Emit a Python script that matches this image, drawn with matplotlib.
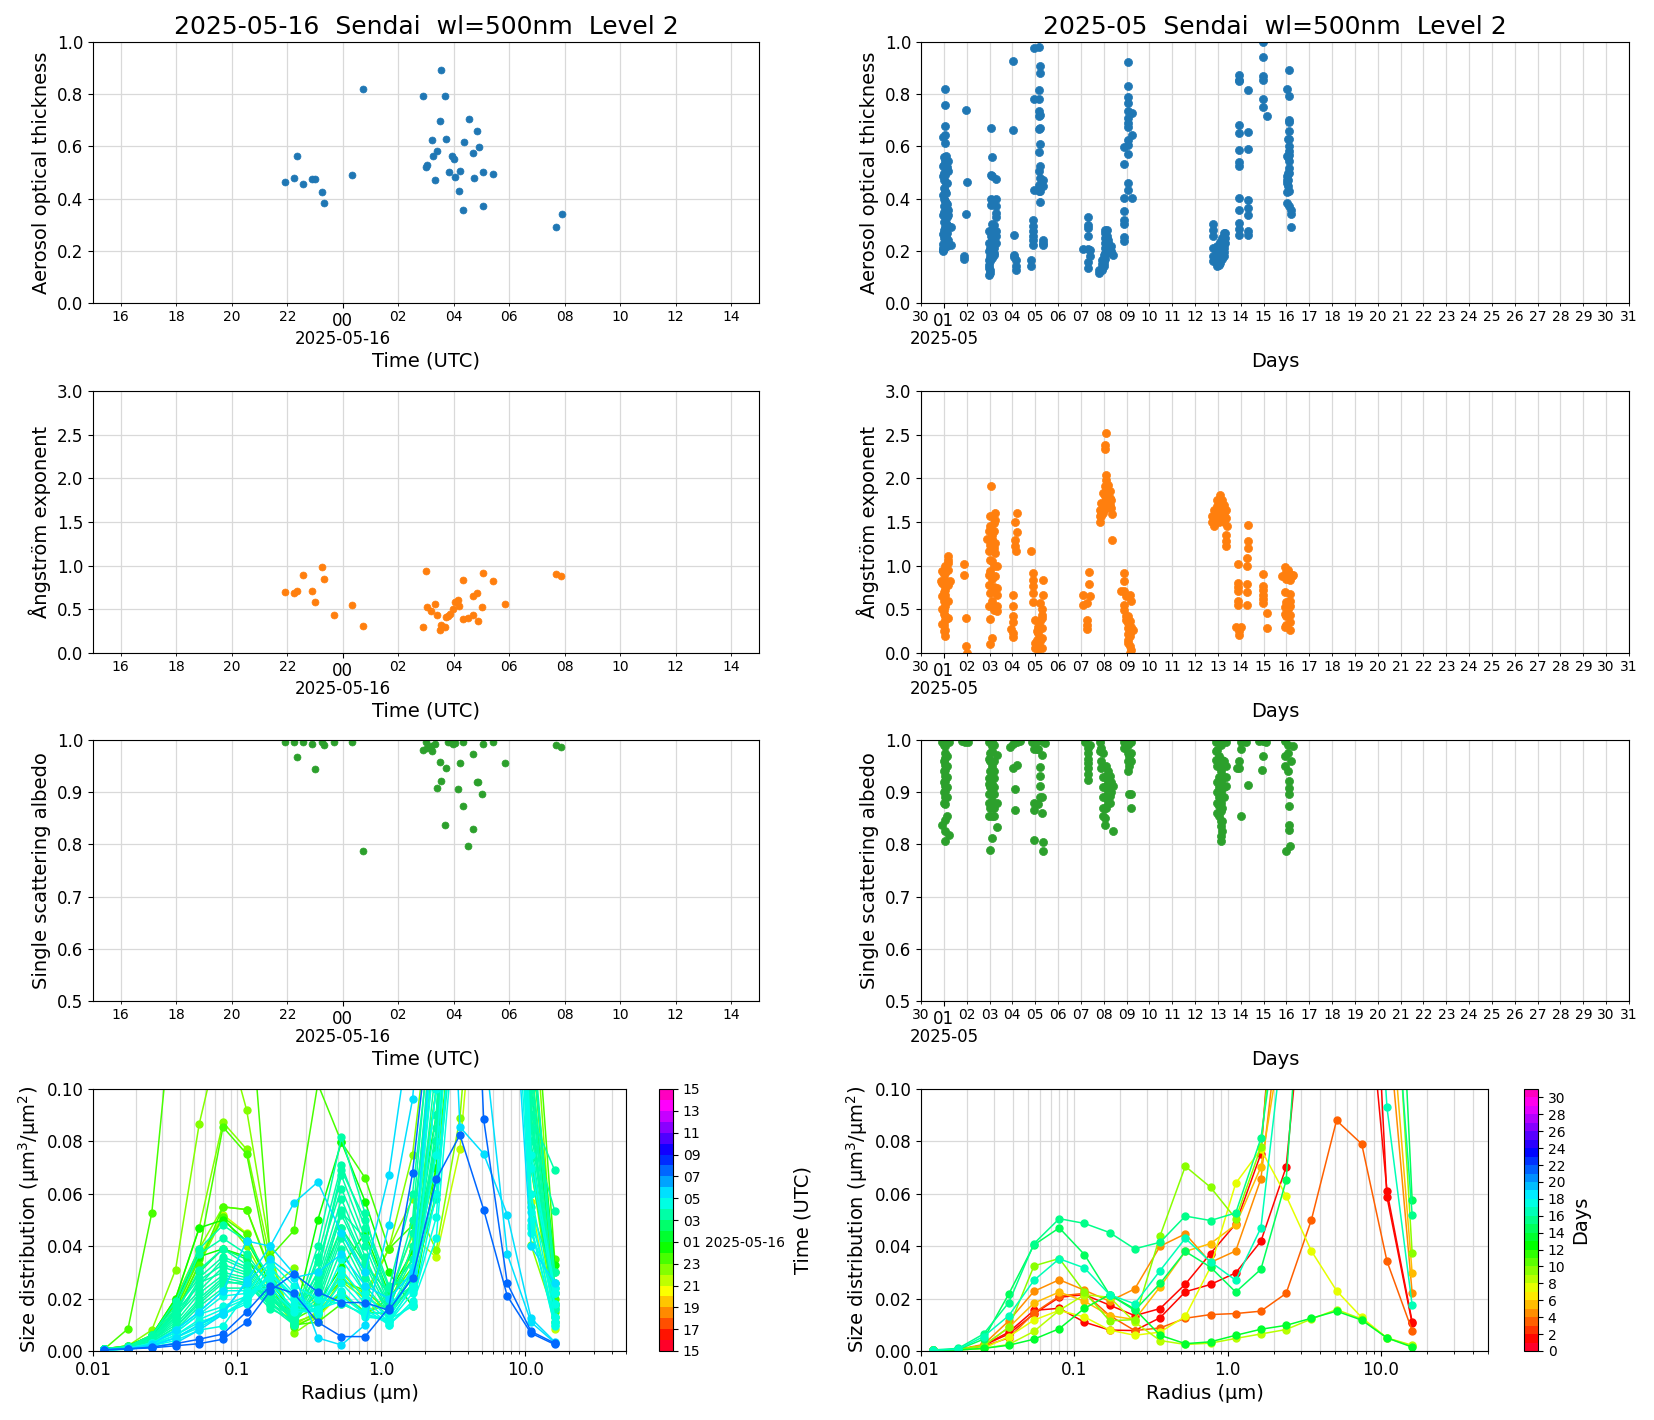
import numpy as np
import matplotlib as mpl
mpl.use("Agg")
import matplotlib.pyplot as plt
import matplotlib.dates as mdates
from matplotlib.cm import ScalarMappable
from matplotlib.colors import Normalize

W, H = 1654, 1420

# ---- one day, hours from 2025-05-16 00 UTC
aod_hours = [-2.08, -1.76, -1.65, -1.43, -1.10, -1.01, -0.75, -0.68, 0.33, 0.74, 2.89, 3.01, 3.05, 3.20,
             3.24, 3.33, 3.40, 3.51, 3.55, 3.68, 3.73, 3.84, 3.92, 4.01, 4.05, 4.19, 4.23, 4.34, 4.38,
             4.56, 4.69, 4.73, 4.84, 4.91, 5.04, 5.07, 5.40, 7.70, 7.90]
aod_day = [.464, .479, .563, .456, .475, .475, .425, .383, .490, .820, .793, .521, .529, .625,
           .563, .471, .582, .697, .893, .793, .628, .502, .563, .552, .483, .429, .506, .356, .617,
           .705, .575, .479, .659, .598, .502, .372, .494, .291, .341]

ae_hours = [-2.07, -1.76, -1.65, -1.44, -1.12, -1.00, -0.755, -0.68, -0.32, 0.32, 0.72, 2.88, 3.00, 3.02,
            3.18, 3.32, 3.38, 3.49, 3.53, 3.68, 3.72, 3.81, 3.88, 3.98, 4.04, 4.17, 4.20, 4.32, 4.35,
            4.53, 4.68, 4.71, 4.82, 4.89, 5.00, 5.04, 5.40, 5.84, 7.67, 7.88]
ae_day = [.70, .688, .712, .896, .712, .585, .988, .85, .435, .55, .308, .296, .942, .523,
          .481, .562, .435, .262, .319, .296, .412, .419, .442, .504, .588, .604, .538, .838, .388,
          .40, .435, .654, .688, .365, .527, .919, .827, .562, .908, .885]

ssa_hours = [-2.07, -1.76, -1.65, -1.44, -1.12, -1.00, -0.755, -0.68, -0.32, 0.32, 0.72, 2.88, 3.00, 3.02,
             3.18, 3.20, 3.32, 3.38, 3.49, 3.53, 3.68, 3.72, 3.81, 3.88, 3.98, 4.04, 4.17, 4.21, 4.32,
             4.35, 4.53, 4.68, 4.71, 4.82, 4.89, 5.00, 5.04, 5.40, 5.84, 7.67, 7.88]
ssa_day = [.997, .997, .968, .997, .992, .945, .996, .99, .996, .997, .787, .981, .997, .985,
           .988, .978, .992, .909, .958, .922, .838, .947, .996, .996, .992, .995, .907, .956, .996,
           .874, .796, .829, .973, .92, .92, .897, .992, .997, .956, .99, .987]

# ---- one month, (day of May, values seen around that time)
aod_month = [
    (0.95, [.636, .526, .485, .415, .338, .264, .225, .211, .204, .198]),
    (1.00, [.56, .53, .50, .47, .44, .40, .37, .35, .31, .28, .25, .22, .21]),
    (1.04, [.819, .759, .679, .645, .613, .545, .49, .43, .39, .33, .29, .25, .22]),
    (1.08, [.562, .536, .504, .46, .421, .383, .358, .332, .306, .281, .255, .236, .217]),
    (1.13, [.52, .46, .38, .36, .33, .30, .27, .24, .22]),
    (1.19, [.543, .504, .358, .338, .294, .243, .227]),
    (1.30, [.291, .224]),
    (1.96, [.739, .341]), (2.00, [.464]), (1.87, [.179, .169]),
    (3.05, [.670, .492, .398, .377, .255, .275, .198]),
    (3.13, [.559, .485, .304, .281, .243, .204, .172]),
    (3.29, [.475, .398, .37, .345, .33, .275, .258, .23]),
    (3.20, [.30, .275, .25, .23, .211, .185, .19]),
    (2.96, [.275, .23, .198, .166, .147, .134, .109]),
    (3.00, [.21, .18, .16, .128, .115]),
    (4.05, [.926, .663]), (4.09, [.259, .185, .176]), (4.14, [.166, .14, .125]),
    (4.92, [.319, .294, .275, .255, .243, .224]), (4.83, [.163, .14]),
    (4.96, [.977, .782, .434]),
    (5.17, [.981, .817, .782, .734, .715, .667, .577, .504, .453, .428]),
    (5.22, [.909, .881, .722, .67, .61, .524, .479, .428, .386]),
    (5.33, [.473, .45, .243, .224, .23]),
    (7.30, [.329, .30, .287, .255]), (7.11, [.208]), (7.31, [.207, .156, .134]), (7.38, [.202, .18]),
    (7.80, [.115, .125]), (7.92, [.125, .135, .15, .165]), (8.00, [.14, .155, .17, .185]),
    (8.07, [.17, .19, .21, .23, .25, .278, .268]), (8.14, [.19, .205, .22, .24, .255, .278]),
    (8.20, [.195, .21, .23, .24]), (8.30, [.19, .2, .217]), (8.40, [.185]),
    (9.05, [.923, .831, .734, .709, .69, .674, .607, .46, .434]),
    (9.08, [.789, .766, .626, .57]),
    (9.22, [.728, .645, .401]), (8.90, [.598, .533, .401, .352, .319, .304, .253, .236]),
    (12.80, [.304, .278, .255, .21, .18, .16]), (12.95, [.217, .2, .18, .16, .15, .14]),
    (13.03, [.22, .2, .185, .17, .155, .145]), (13.10, [.235, .215, .2, .18, .165, .155]),
    (13.18, [.25, .235, .22, .2, .185, .17]), (13.27, [.268, .255, .24, .225, .21, .195, .18]),
    (13.31, [.27, .25, .23]),
    (13.92, [.875, .849, .853, .683, .651, .585, .54, .526, .402, .307, .284, .262, .355]),
    (14.30, [.816, .654, .59, .396, .364, .338, .275, .262]),
    (14.98, [.999, .943, .868, .856, .782, .751]), (15.15, [.716]),
    (16.13, [.893, .792, .702, .692, .659, .63, .6, .581, .568, .543, .517, .498, .428, .373]),
    (16.02, [.821, .565, .485, .473, .46, .424, .383]),
    (16.08, [.63, .56, .50, .47, .45]),
    (16.22, [.358, .34, .291]),
]
ae_month = [
    (1.17, [1.11, 1.03, 1.069, .95, .78, .60, .40]), (0.93, [.935, .649, .336, .80, .50]), (0.88, [.82]), (1.25, [.82]),
    (1.07, [.916, .992, .725, .84, .592, .668, .42, .534, .267, .382, .198]),
    (1.00, [.782, .496, .324, .6, .45, .25, .90, .70]),
    (1.87, [1.02, .893]), (1.96, [.40, .084]), (2.01, [0.0]),
    (3.07, [1.912]), (3.22, [1.603, 1.527, 1.145, .878]), (3.03, [1.565, 1.45, 1.24, 1.069, .935, .687, .389]),
    (3.18, [1.489, .992, .75, 1.40, 1.20]), (2.96, [1.393, 1.164, .897, .782, .542]), (3.10, [1.355, 1.30, 1.05, .85, .60]),
    (2.89, [1.305]), (3.25, [1.26, .744]), (3.32, [.992, .744, .668, .534, .477]),
    (3.18, [.496]), (3.13, [.172]), (3.03, [.103]),
    (4.19, [1.6, 1.385]), (4.12, [1.496, 1.298, 1.229]), (4.15, [1.164]),
    (4.05, [.668, .542, .42, .351, .229, .179]), (3.95, [.275]),
    (4.83, [1.172]), (4.92, [.916, .84, .763, .687, .584]),
    (5.35, [.836, .664]), (5.21, [.573, .363, .134]), (5.28, [.439, .286, .172, .057, .50, .40]),
    (4.99, [.382, .115, .057]), (5.14, [.229, .30, .10, .05]), (5.10, [.25, .15]),
    (7.36, [.927, .79]), (7.11, [.664, .546]), (7.38, [.649]), (7.27, [.573, .382, .324, .275]),
    (8.11, [2.519]), (8.07, [2.385, 2.34]),
    (8.11, [2.042, 1.985, 1.813, 1.90, 1.75, 1.70]), (8.18, [1.927, 1.85, 1.75, 1.718]),
    (8.04, [1.908, 1.80, 1.70, 1.65]), (8.26, [1.851, 1.78, 1.70]), (7.97, [1.832, 1.70, 1.641, 1.60]),
    (8.33, [1.756, 1.66]), (7.89, [1.718, 1.60, 1.565]), (8.37, [1.595]), (7.82, [1.641, 1.565, 1.496]),
    (8.37, [1.294]),
    (8.88, [.916, .82, .706, .553, .489]), (8.77, [.706]), (9.13, [.668, .363, .191]),
    (8.98, [.649, .42, .38]), (9.20, [.592, .30, .25]), (9.06, [.42, .286, .115, .34, .22, .15]),
    (9.27, [.267]), (9.20, [.038]), (9.13, [0.0, .08]),
    (13.09, [1.813, 1.72, 1.64, 1.56]), (12.95, [1.756, 1.68, 1.60, 1.546]),
    (13.19, [1.756, 1.68, 1.60, 1.527]), (12.83, [1.641, 1.45, 1.52]), (13.05, [1.66, 1.50, 1.58]),
    (13.34, [1.641, 1.55, 1.355, 1.279, 1.221]), (12.76, [1.565, 1.50]), (13.41, [1.45]),
    (13.27, [1.70, 1.60, 1.50]),
    (14.32, [1.466, 1.279, 1.202]), (14.28, [1.088, .992, .794, .695, .55]),
    (13.89, [1.019, .802, .706, .553, .60, .75]), (13.81, [.294]), (13.99, [.294]), (13.92, [.21, .25]),
    (14.98, [.905, .763, .668, .573, .72, .62]), (15.15, [.458, .286]),
    (15.92, [.985]), (16.09, [.954, .58, .50]), (16.31, [.897]), (15.80, [.878]), (16.16, [.84, .679, .439, .267]),
    (15.99, [.93, .85, .58, .42, .324]), (15.92, [.698, .53, .45, .30]), (16.16, [.90, .60, .54, .36]),
    (16.25, [.88]),
]
ssa_month = [
    (1.07, [.996, .988, .975, .966, .953, .943, .931, .921, .912, .902, .89, .877, .846, .826, .807]),
    (0.93, [.997, .837]), (1.22, [.997, .818]), (1.00, [.99, .96, .94, .92, .90, .88]),
    (1.12, [.855, .97, .95, .93, .91, .89]),
    (1.94, [.997]), (1.80, [.998]), (2.07, [.997]),
    (2.96, [.997, .964, .928, .896, .855, .915, .88]), (3.10, [.997, .988, .978, .95, .915, .883, .855, .813]),
    (3.32, [.971, .88, .834]), (3.18, [.99, .928, .896, .855, .96, .94, .91, .87]), (3.03, [.79, .94, .91, .87, .975, .96]),
    (3.90, [.986]), (4.05, [.992, .947]), (4.19, [.996, .953]), (4.34, [.998]), (4.11, [.907, .865]),
    (4.85, [.997]), (5.06, [.998, .982]), (5.28, [.998, .971, .89, .861]), (5.43, [.995]),
    (4.96, [.982, .88, .865, .808]), (5.14, [.982, .877]), (5.19, [.949, .931, .912, .89]),
    (5.35, [.804, .787]),
    (7.17, [.997]), (7.31, [.985, .964, .947, .924, .975, .955, .935]), (7.38, [.99]),
    (7.82, [.997, .978]), (7.89, [.959, .947, .985]), (7.97, [.93, .91, .89, .87, .855, .975]),
    (8.04, [.93, .91, .89, .87, .85, .837]), (8.11, [.95, .93, .91, .89, .87]),
    (8.18, [.94, .92, .90, .88]), (8.26, [.931, .91, .893, .88]), (8.40, [.912, .825]), (8.33, [.92, .90]),
    (8.91, [.997, .985]), (9.20, [.996, .96, .897, .87, .975]), (9.05, [.99, .975, .94, .96]), (9.12, [.969, .897, .95]),
    (12.90, [.997, .978, .962]), (13.05, [.997, .97, .95, .93, .91, .89, .874, .855]),
    (13.34, [.997, .912]), (12.97, [.98, .95, .92, .90, .88, .86]), (13.19, [.962, .95, .93, .91, .89, .87, .845, .826]),
    (13.12, [.99, .96, .94, .92, .90, .88, .864, .845, .836, .816, .807]),
    (13.34, [.93, .95]), (13.27, [.93, .91, .89, .96]),
    (13.99, [.997]), (14.21, [.997]), (13.99, [.983]), (13.92, [.959, .947]), (13.82, [.947]),
    (14.32, [.914]), (13.99, [.855]),
    (14.98, [.998, .969]), (14.95, [.943]), (14.82, [.998]), (15.10, [.997]),
    (15.95, [.998, .969, .95]), (16.31, [.988]), (16.22, [.959]), (16.08, [.99, .94, .975]),
    (16.12, [.921, .909, .896, .874, .837, .827]), (16.16, [.797]), (15.98, [.787]),
]

# ---- size distributions
radius = [.012, .0175, .0256, .0374, .0546, .0798, .1165, .170, .248, .363,
          .530, .774, 1.13, 1.65, 2.41, 3.52, 5.14, 7.50, 10.96, 16.0]

size_hours = [-2.07, -1.76, -1.65, -1.44, -1.12, -1.0, -.75, -.68, -.32, .32, .72, 2.88, 3.0, 3.02, 3.18, 3.2,
              3.32, 3.38, 3.49, 3.53, 3.68, 3.72, 3.81, 3.88, 3.98, 4.04, 4.17, 4.21, 4.32, 4.35, 4.53, 4.71,
              4.89, 5.04, 5.4, 5.84, 7.67, 7.88]
# per hour above, in 1e-3 um3/um2
size_day = [
    [.6, 1.2, 5, 16, 36, 52, 45, 22, 10, 13, 22, 14, 22, 44, 35.8, 77, 180, 320, 57, 8.5],
    [.7, 1.5, 6, 20, 39, 55, 54, 31, 11, 14, 27, 22, 39, 58, 38.5, 89, 200, 340, 40.5, 13],
    [.8, 2, 8, 31, 86.7, 125, 92, 38, 6.7, 13, 26.5, 20, 39, 75, 150, 300, 420, 380, 150, 22],
    [.6, 1.4, 5, 15, 33, 51, 40, 24, 31.5, 16, 22, 14.5, 18, 38, 76.5, 170, 300, 340, 70, 11],
    [.8, 2, 6, 20, 47, 87.3, 77, 35, 10, 15, 30, 20, 16, 40, 100, 250, 380, 360, 120, 22],
    [.8, 8.5, 52.8, 145, 300, 320, 150, 36, 46, 102, 79.7, 66, 39, 48, 120, 280, 450, 400, 160, 35.2],
    [.8, 1.6, 5, 18, 38, 85.5, 75.2, 30, 9, 14, 22, 15, 14, 30, 80, 200, 320, 300, 110, 20],
    [.7, 1.5, 5, 16, 35, 51, 44.5, 25, 10, 11, 18, 14, 20, 32, 70, 150, 300, 280, 73.5, 15],
    [.7, 1.4, 5, 14, 33, 55, 54, 30, 12, 17, 27, 23, 15, 25, 60, 160, 300, 320, 90, 18],
    [.8, 2, 6, 20, 47, 50, 42, 26, 15, 18, 32, 45, 22, 38, 90, 210, 350, 380, 120, 33],
    [.7, 1.5, 5, 19, 36, 39, 36, 20, 12, 50, 79.7, 57, 30, 17, 70, 180, 320, 340, 100, 30],
    [.8, 1.5, 5, 15, 30, 39, 35, 26, 16, 25, 47, 33, 22, 35, 80, 160, 300, 280, 70, 17],
    [.8, 1.8, 6, 19, 39, 48, 42, 28, 14, 30, 69, 50, 25, 28, 76, 190, 320, 300, 55, 26],
    [.7, 1.5, 6, 17, 37, 43, 37, 25, 13, 22, 53, 43, 20, 30, 58, 150, 340, 320, 74, 24],
    [.8, 1.6, 5, 14, 31, 39, 33, 23, 12, 40, 81.5, 52.5, 18, 25, 110, 250, 400, 350, 90, 69],
    [.7, 1.4, 5, 16, 28, 36, 32, 22, 11, 36, 71, 47, 24, 60, 140, 280, 380, 330, 85, 53.5],
    [.7, 1.5, 5, 13, 27, 33, 30, 20, 12, 30, 67, 43, 20, 45, 130, 300, 440, 400, 120, 30],
    [.7, 1.3, 5, 15, 25, 35, 31, 21, 13, 34, 62, 40, 18, 50, 150, 320, 450, 420, 130, 22],
    [.6, 1.3, 4, 12, 26, 30, 28, 18, 11, 28, 58, 36, 16, 40, 140, 300, 420, 380, 110, 26],
    [.6, 1.2, 4, 13, 23, 32, 29, 19, 10, 26, 54, 34, 18, 35, 120, 280, 400, 380, 105, 18],
    [.6, 1.2, 4, 11, 22, 29, 27, 17, 10, 24, 52, 33, 15, 28, 100, 260, 380, 360, 100, 16],
    [.6, 1.1, 4, 10, 20, 28, 26, 16, 12, 22, 47, 30, 14, 30, 90, 250, 400, 350, 95, 13],
    [.5, 1.1, 3.5, 9, 19, 27, 25, 18, 13, 20, 45, 28, 16, 28, 100, 240, 360, 340, 90, 11],
    [.5, 1.0, 3.5, 9, 18, 26, 26, 20, 14, 18, 43, 25, 14, 25, 85, 230, 340, 330, 85, 18],
    [.5, 1.0, 3, 8, 17, 24, 24, 22, 15, 16, 39, 22, 13, 26, 80, 220, 330, 320, 80, 16],
    [.5, 1.0, 3, 8, 15, 23, 23, 24, 15, 15, 35, 22, 12, 24, 75, 200, 320, 300, 75, 24],
    [.5, .9, 3, 7, 14, 21, 22, 26, 16, 15, 31, 20, 11, 22, 65, 190, 310, 290, 70, 22],
    [.5, .9, 3, 7, 14, 17, 21, 28, 18, 15, 29, 18, 10, 19, 51, 170, 300, 280, 60, 13],
    [.4, .9, 2.5, 6, 12, 16, 20, 29, 20, 14, 26, 16, 10, 18, 43, 150, 290, 270, 53, 11],
    [.4, .8, 2.5, 6, 11, 14, 18, 30, 20, 15, 23, 14, 12, 17, 60, 160, 260, 250, 48, 10],
    [.4, .8, 2.5, 5, 10, 14, 19, 30, 21, 15, 21, 14, 11, 25, 100, 200, 280, 240, 47, 9.5],
    [.4, .8, 2, 5, 9, 14, 20, 32, 22, 16, 19, 13, 12, 30, 120, 220, 260, 230, 50, 18],
    [.4, .7, 2, 4, 8, 9.5, 22, 34, 25, 20, 18, 14, 15, 32, 130, 240, 280, 200, 45, 22],
    [.4, .7, 2, 5, 10, 15, 26, 35, 28, 30, 37, 25, 20, 30, 140, 260, 300, 180, 40, 26],
    [.5, 1, 2.5, 8, 15, 23, 42, 40, 56.5, 64.5, 45, 30, 67, 130, 280, 85.5, 75.3, 52, 12.5, 3.5],
    [.4, .8, 1.5, 3, 8, 14, 27, 40, 29.5, 5, 2.3, 10, 48, 96, 200, 300, 120, 37, 11, 3.2],
    [.5, .8, 1.2, 2, 2.8, 4.5, 11, 23, 29.5, 22.5, 18.5, 18.5, 15.5, 28, 65.5, 82.5, 54, 21, 6.8, 2.5],
    [.5, .8, 1.5, 2.8, 4.5, 6.5, 15, 25, 22, 11, 5.5, 5.5, 16.5, 68, 150, 300, 88.5, 25.8, 7.5, 3],
]

size_days = [1.0, 1.2, 3, 4, 5, 7, 8, 9, 13, 14, 15, 16]
size_month = [
    [.3, .5, 2.2, 7.2, 15.5, 16.3, 11, 8, 7.8, 12.7, 22.6, 25.4, 29.8, 41.9, 70.2, 170, 300, 250, 58.8, 10.5],
    [.3, .5, 2.2, 6.5, 14.2, 20.5, 21.5, 17.5, 13.5, 16.2, 25.5, 37.2, 48.5, 75.3, 200, 320, 350, 165, 61, 11.2],
    [.3, .6, 1.8, 5, 14.5, 21, 22, 13.5, 7.8, 8.8, 12.5, 13.9, 14.3, 15.2, 22, 50, 88, 79, 34.3, 7.8],
    [.3, .6, 2.5, 11.5, 22.8, 27.2, 23.2, 19, 23.7, 40, 44.7, 33.8, 38.2, 65.7, 150, 300, 350, 300, 131, 22.2],
    [.3, .6, 2, 9, 18.3, 22.5, 19, 13.5, 12, 24.5, 38, 41, 48.2, 70.2, 130, 280, 340, 320, 150, 29.7],
    [.3, .5, 1, 5.5, 11.8, 15.5, 13, 8, 6, 7.2, 13.2, 32, 64, 77, 59.2, 38.2, 23, 12.8, 5, 1.8],
    [.2, .4, 1, 2.5, 7.5, 15.5, 21.5, 20.5, 11, 4, 2.5, 3, 4.8, 6.5, 8.2, 12.2, 15.8, 12.2, 5, 2.2],
    [.3, .5, 2, 9, 32.5, 35.3, 22.5, 11.5, 12, 44, 70.5, 62.5, 50.5, 77.8, 180, 320, 380, 350, 200, 37.4],
    [.2, .4, 1, 2.2, 4.5, 8.5, 16.3, 21.5, 16, 6, 2.8, 3.5, 6, 8.3, 9.8, 12.5, 15.2, 11.8, 5, 1.5],
    [.3, .6, 4.5, 21.8, 40.5, 47, 36.8, 21.5, 15.5, 25.8, 38, 32, 22.5, 31.2, 65.1, 200, 350, 400, 260, 57.5],
    [.4, 1, 6.5, 18.5, 41, 50.5, 48.7, 45.2, 39, 41.5, 51.5, 49.8, 52.7, 81.2, 150, 300, 380, 360, 180, 52],
    [.3, .7, 5.5, 13.5, 27, 35.2, 31.7, 21.5, 18, 30.7, 43, 34, 27, 47, 130, 280, 320, 250, 93, 17.5],
]

HOUR_LABELS = ["15", "17", "19", "21", "23", "01 2025-05-16", "03", "05", "07", "09", "11", "13", "15"]
GRID = "#d9d9d9"


def px_axes(left, top, right, bottom):
    return fig.add_axes([left / W, 1 - bottom / H, (right - left) / W, (bottom - top) / H])


def hours_to_dates(hours):
    base = np.datetime64("2025-05-16T00:00:00")
    return base + (np.array(hours) * 3600).astype("timedelta64[s]")


def days_to_dates(days):
    base = np.datetime64("2025-05-01T00:00:00")
    return base + ((np.array(days) - 1) * 86400).astype("timedelta64[s]")


def flatten(groups):
    x, y = [], []
    for d, vals in groups:
        x += [d] * len(vals)
        y += vals
    return x, y


def date_under_tick(ax, when, text):
    # date line under the big tick label, kept apart so it stays off the small labels
    ax.annotate(text, xy=(mdates.date2num(when), 0), xycoords=("data", "axes fraction"),
                xytext=(0, -26), textcoords="offset points", ha="center", va="center", fontsize=12)


def style_day(ax):
    ax.set_xlim(np.datetime64("2025-05-15T15:00"), np.datetime64("2025-05-16T15:00"))
    ax.xaxis.set_major_locator(mdates.DayLocator())
    ax.xaxis.set_major_formatter(mdates.DateFormatter("%H"))
    ax.xaxis.set_minor_locator(mdates.HourLocator(byhour=range(0, 24, 2)))
    ax.xaxis.set_minor_formatter(mdates.DateFormatter("%H"))
    ax.set_xlabel("Time (UTC)", fontsize=14)
    date_under_tick(ax, np.datetime64("2025-05-16"), "2025-05-16")


def style_month(ax):
    ax.set_xlim(np.datetime64("2025-04-30"), np.datetime64("2025-05-31"))
    ax.xaxis.set_major_locator(mdates.MonthLocator())
    ax.xaxis.set_major_formatter(mdates.DateFormatter("%d"))
    ax.xaxis.set_minor_locator(mdates.DayLocator())
    ax.xaxis.set_minor_formatter(mdates.DateFormatter("%d"))
    ax.set_xlabel("Days", fontsize=14)
    date_under_tick(ax, np.datetime64("2025-05-01"), "2025-05")


def style_common(ax, ylabel, ylim, yticks):
    ax.set_ylim(*ylim)
    ax.set_yticks(yticks)
    ax.set_ylabel(ylabel, fontsize=14)
    ax.grid(True, which="both", color=GRID, lw=0.9)
    ax.set_axisbelow(True)
    ax.tick_params(axis="y", labelsize=12)
    ax.tick_params(axis="x", which="major", labelsize=12, pad=3)
    ax.tick_params(axis="x", which="minor", labelsize=10, pad=3)
    ax.xaxis.set_label_coords(0.5, -0.187)


def style_size(ax):
    ax.set_xscale("log")
    ax.set_xlim(0.01, 50)
    ax.set_ylim(0, 0.1)
    ax.set_xticks([0.01, 0.1, 1, 10], ["0.01", "0.1", "1.0", "10.0"])
    ax.xaxis.set_minor_formatter(mpl.ticker.NullFormatter())
    ax.set_yticks([0, .02, .04, .06, .08, .1], ["0.00", "0.02", "0.04", "0.06", "0.08", "0.10"])
    ax.tick_params(labelsize=12)
    ax.grid(True, which="both", color=GRID, lw=0.9)
    ax.set_axisbelow(True)
    ax.set_xlabel("Radius (\u00b5m)", fontsize=14)
    ax.set_ylabel("Size distribution (\u00b5m$^3$/\u00b5m$^2$)", fontsize=14, labelpad=3)


fig = plt.figure(figsize=(W / 100, H / 100), dpi=100)

MS = 5.0
MS_MONTH = 5.8
rows = [(42, 303), (391, 653), (740, 1001)]
col_day = (93, 759)
col_month = (921, 1629)

series = [
    (aod_hours, aod_day, aod_month, "C0", "Aerosol optical thickness", (0, 1), [0, .2, .4, .6, .8, 1]),
    (ae_hours, ae_day, ae_month, "C1", "\u00c5ngstr\u00f6m exponent", (0, 3), [0, .5, 1, 1.5, 2, 2.5, 3]),
    (ssa_hours, ssa_day, ssa_month, "C2", "Single scattering albedo", (.5, 1), [.5, .6, .7, .8, .9, 1]),
]

for (top, bottom), (hrs, vals, month, color, label, ylim, yticks) in zip(rows, series):
    ax = px_axes(col_day[0], top, col_day[1], bottom)
    ax.plot(hours_to_dates(hrs), vals, "o", color=color, ms=MS, mew=0.5)
    style_day(ax)
    style_common(ax, label, ylim, yticks)
    if top == rows[0][0]:
        ax.set_title("2025-05-16  Sendai  wl=500nm  Level 2", fontsize=18, pad=6)

    ax = px_axes(col_month[0], top, col_month[1], bottom)
    mx, my = flatten(month)
    ax.plot(days_to_dates(mx), my, "o", color=color, ms=MS_MONTH, mew=0.5)
    style_month(ax)
    style_common(ax, label, ylim, yticks)
    if top == rows[0][0]:
        ax.set_title("2025-05  Sendai  wl=500nm  Level 2", fontsize=18, pad=6)

# size distribution, one day
cmap_day = plt.get_cmap("gist_rainbow", 24)
ax = px_axes(93, 1089, 626, 1351)
for h, curve in zip(size_hours, size_day):
    ax.plot(radius, np.array(curve) * 1e-3, "-o", color=cmap_day((h + 9) / 24), lw=1.1, ms=MS)
style_size(ax)

cax = px_axes(659, 1089, 673, 1351)
cb = fig.colorbar(ScalarMappable(Normalize(0, 24), cmap_day), cax=cax)
cb.set_ticks(range(0, 25, 2), labels=HOUR_LABELS)
cb.ax.tick_params(labelsize=10)
cb.set_label("Time (UTC)", fontsize=14, labelpad=6)

# size distribution, one month
cmap_month = plt.get_cmap("gist_rainbow", 31)
ax = px_axes(921, 1089, 1488, 1351)
for d, curve in zip(size_days, size_month):
    ax.plot(radius, np.array(curve) * 1e-3, "-o", color=cmap_month(d / 31), lw=1.1, ms=MS)
style_size(ax)

cax = px_axes(1524, 1089, 1538, 1351)
cb = fig.colorbar(ScalarMappable(Normalize(0, 31), cmap_month), cax=cax)
cb.set_ticks(range(0, 31, 2))
cb.ax.tick_params(labelsize=10)
cb.set_label("Days", fontsize=14, labelpad=4)

fig.savefig("out.png", dpi=100)
